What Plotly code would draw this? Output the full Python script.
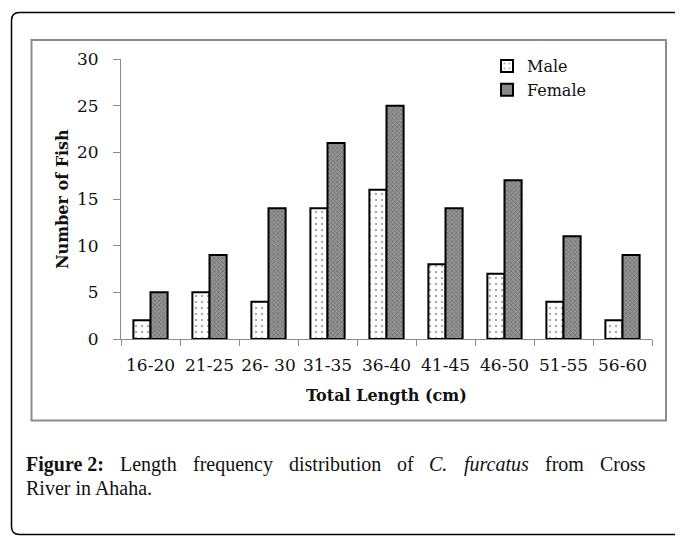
import plotly.graph_objects as go

categories = ["16-20", "21-25", "26- 30", "31-35", "36-40", "41-45", "46-50", "51-55", "56-60"]
male = [2, 5, 4, 14, 16, 8, 7, 4, 2]
female = [5, 9, 14, 21, 25, 14, 17, 11, 9]
y_ticks = [0, 5, 10, 15, 20, 25, 30]

caption_words = ["<b>Figure 2:</b>", "Length", "frequency", "distribution", "of",
                 "<i>C.</i>", "<i>furcatus</i>", "from", "Cross"]
caption_x = [25, 119, 191.7, 287.7, 395.7, 428.4, 462.7, 544.3, 599.2]  # word starts (page px)
caption_line2 = "River in Ahaha."

OFF = 8                      # page body margin
W, H = 683 - OFF, 536 - OFF
L, R, T, B = 121 - OFF, 652 - OFF, 59 - OFF, 339 - OFF  # plot area in figure pixels


def px(x):  # page pixel -> paper x
    return (x - OFF - L) / (R - L)


def py(y):  # page pixel -> paper y
    return (B - (y - OFF)) / (B - T)


fig = go.Figure()
fig.add_trace(go.Bar(
    x=categories, y=male, name="Male",
    marker=dict(color="white", line=dict(color="black", width=2),
                pattern=dict(shape=".", bgcolor="white", fgcolor="#555555", size=6, solidity=0.12)),
))
fig.add_trace(go.Bar(
    x=categories, y=female, name="Female",
    marker=dict(color="#888888", line=dict(color="black", width=2),
                pattern=dict(shape="x", bgcolor="#959595", fgcolor="#444444", size=3, solidity=0.4)),
))

# outer rounded box (page pixel coords)
x0, y0, x1, y1, r = 11.5, 12.5, 681.5, 534.5, 8
path = (f"M {px(x0)},{py(y0 + r)} Q {px(x0)},{py(y0)} {px(x0 + r)},{py(y0)} "
        f"L {px(x1 - r)},{py(y0)} Q {px(x1)},{py(y0)} {px(x1)},{py(y0 + r)} "
        f"L {px(x1)},{py(y1 - r)} Q {px(x1)},{py(y1)} {px(x1 - r)},{py(y1)} "
        f"L {px(x0 + r)},{py(y1)} Q {px(x0)},{py(y1)} {px(x0)},{py(y1 - r)} Z")
shapes = [
    dict(type="path", xref="paper", yref="paper", path=path,
         line=dict(color="black", width=1.5), layer="below"),
    dict(type="rect", xref="paper", yref="paper",
         x0=px(31.5), x1=px(666), y0=py(420.5), y1=py(40),
         line=dict(color="#8c8c8c", width=2), layer="below"),
]

serif = "DejaVu Serif"
cap_font = dict(family="Liberation Serif", size=20, color="#111")
annotations = [
    dict(text="<b>Number of Fish</b>", xref="paper", yref="paper", x=px(62), y=py(199),
         showarrow=False, textangle=-90, xanchor="center", yanchor="middle",
         font=dict(family=serif, size=16, color="#111")),
    dict(text="<b>Total Length (cm)</b>", xref="paper", yref="paper", x=px(386.5), y=py(395),
         showarrow=False, xanchor="center", yanchor="middle",
         font=dict(family=serif, size=16, color="#111")),
    dict(text=caption_line2, xref="paper", yref="paper", x=px(24), y=py(488), showarrow=False,
         xanchor="left", yanchor="middle", font=cap_font),
]
for w, xw in zip(caption_words, caption_x):
    annotations.append(dict(text=w, xref="paper", yref="paper", x=px(xw - 1), y=py(464),
                            showarrow=False, xanchor="left", yanchor="middle", font=cap_font))

fig.update_layout(
    width=W, height=H,
    margin=dict(l=L, r=W - R, t=T, b=H - B, pad=0),
    paper_bgcolor="white", plot_bgcolor="white",
    barmode="group", bargap=0.42, bargroupgap=0,
    showlegend=True,
    legend=dict(x=px(487), y=py(49), xanchor="left", yanchor="top",
                font=dict(family=serif, size=16, color="#111"),
                bgcolor="rgba(0,0,0,0)", tracegroupgap=0),
    shapes=shapes, annotations=annotations,
    xaxis=dict(type="category", range=[-0.5, 8.5], showline=True, linecolor="#8c8c8c", linewidth=1,
               ticks="outside", tickson="boundaries", ticklen=6, tickcolor="#8c8c8c",
               showgrid=False, zeroline=False, tickangle=0, ticklabelstandoff=11,
               tickfont=dict(family=serif, size=17, color="#111")),
    yaxis=dict(range=[0, 30], tickvals=y_ticks, showline=True, linecolor="#8c8c8c", linewidth=1,
               ticks="outside", ticklen=7, tickcolor="#8c8c8c", showgrid=False, zeroline=False,
               ticklabelstandoff=11,
               tickfont=dict(family=serif, size=17, color="#111")),
)

fig.write_html("out.html")
